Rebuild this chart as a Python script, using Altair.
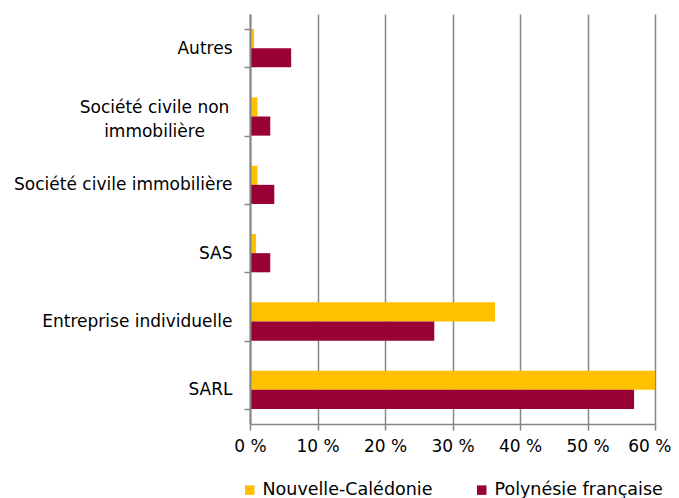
import altair as alt
import pandas as pd

categories = [
    "Autres",
    "Société civile non immobilière",
    "Société civile immobilière",
    "SAS",
    "Entreprise individuelle",
    "SARL",
]
series = ["Nouvelle-Calédonie", "Polynésie française"]
nc_values = [0.6, 1.1, 1.1, 0.9, 36.3, 60.0]
pf_values = [6.1, 3.0, 3.6, 3.0, 27.3, 56.9]
colors = ["#FFC000", "#990033"]
x_ticks = [0, 10, 20, 30, 40, 50, 60]

rows = []
for c, a, b in zip(categories, nc_values, pf_values):
    rows.append({"cat": c, "series": series[0], "value": a})
    rows.append({"cat": c, "series": series[1], "value": b})
df = pd.DataFrame(rows)

FONT = "DejaVu Sans"
GRAY = "#868686"
wrapped = "Société civile non immobilière"
label_expr = (
    f"datum.value == '{wrapped}' ? ['Société civile non', 'immobilière'] : datum.label"
)
test = f"datum.value == '{wrapped}'"
last_test = f"datum.value == {x_ticks[-1]}"

chart = (
    alt.Chart(df)
    .mark_bar()
    .encode(
        x=alt.X(
            "value:Q",
            scale=alt.Scale(domain=[0, 60], nice=False),
            axis=alt.Axis(
                values=x_ticks,
                labelExpr="datum.value + ' %'",
                title=None,
                grid=True,
                gridColor=GRAY,
                gridWidth=1.5,
                tickSize=6,
                tickColor=GRAY,
                tickWidth=1.5,
                domainColor=GRAY,
                domainWidth=1.5,
                labelFontSize=17,
                labelPadding=8,
                labelColor="#000000",
                labelFont=FONT,
                labelLimit=0,
                labelFlush=False,
                labelAlign={"condition": {"test": last_test, "value": "right"}, "value": "center"},
                labelOffset={"condition": {"test": last_test, "value": 16}, "value": 0},
            ),
        ),
        y=alt.Y(
            "cat:N",
            sort=categories,
            scale=alt.Scale(paddingInner=0.44, paddingOuter=0.22),
            axis=alt.Axis(
                title=None,
                tickBand="extent",
                tickSize=6,
                tickColor=GRAY,
                tickWidth=1.5,
                domainColor=GRAY,
                domainWidth=2,
                labelFontSize=17,
                labelFont=FONT,
                labelColor="#000000",
                labelExpr=label_expr,
                labelLimit=0,
                labelLineHeight=24,
                labelAlign={"condition": {"test": test, "value": "center"}, "value": "right"},
                labelPadding={"condition": {"test": test, "value": 90}, "value": 12},
                labelOffset={"condition": {"test": test, "value": -9}, "value": 0},
                zindex=1,
            ),
        ),
        yOffset=alt.YOffset("series:N", sort=series),
        color=alt.Color(
            "series:N",
            sort=series,
            scale=alt.Scale(domain=series, range=colors),
            legend=alt.Legend(
                title=None,
                orient="none",
                direction="horizontal",
                legendX=-9,
                legendY=467,
                symbolType="square",
                symbolSize=90,
                symbolStrokeWidth=0,
                labelFontSize=17.5,
                labelFont=FONT,
                labelColor="#000000",
                labelOffset=4,
                labelLimit=0,
                columnPadding=40,
                padding=0,
            ),
        ),
    )
    .properties(
        width=405,
        height=410,
        autosize=alt.AutoSizeParams(type="none"),
        padding={"left": 242, "top": 6, "right": 16, "bottom": 74},
    )
    .configure_view(stroke=None)
)

chart.save("out.html", embed_options={"renderer": "svg", "actions": False})
